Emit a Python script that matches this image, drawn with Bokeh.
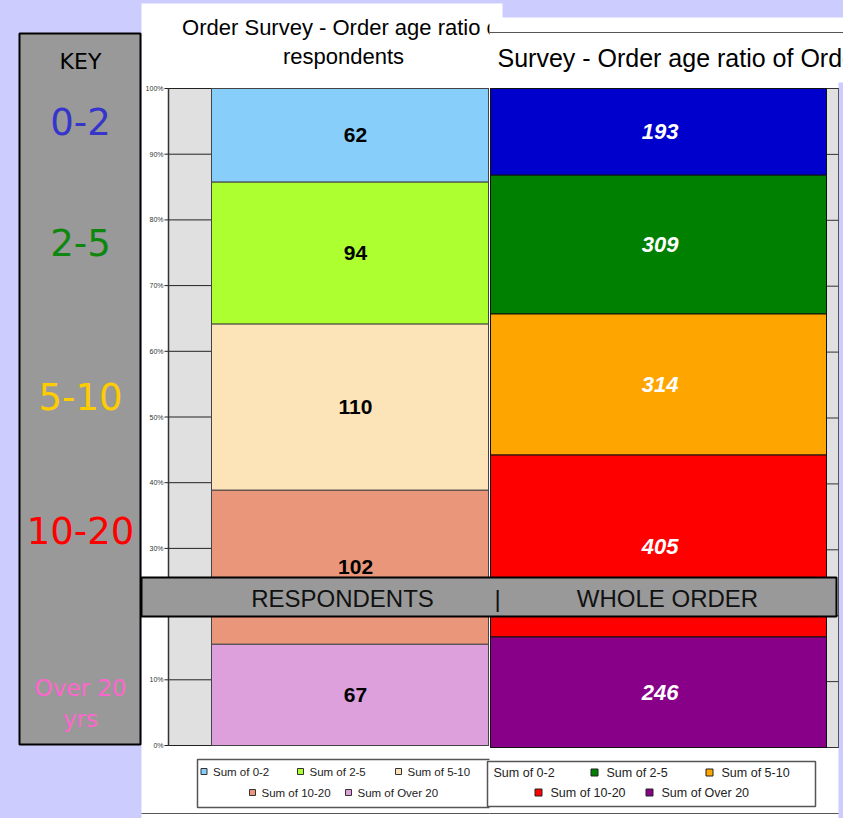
import numpy as np
from bokeh.plotting import figure
from bokeh.models import Range1d, ColumnDataSource
from bokeh.core.properties import value
from bokeh.embed import file_html
from bokeh.resources import INLINE

# ---------------- data ----------------
categories = ["0-2", "2-5", "5-10", "10-20", "Over 20"]
respondents = [62, 94, 110, 102, 67]
whole_order = [193, 309, 314, 405, 246]
resp_colors = ["#87CEFA", "#ADFF2F", "#FDE4B8", "#E9967A", "#DDA0DD"]
order_colors = ["#0000CC", "#008000", "#FFA500", "#FF0000", "#880088"]
key_colors = ["#3535CC", "#0F870F", "#FFCC00", "#FF0000", "#FF66CC"]
key_labels = ["0-2", "2-5", "5-10", "10-20", "Over 20"]
pct_ticks = list(range(0, 101, 10))
pct_tick_labels = [f"{t}%" for t in pct_ticks]
legend_labels = ["Sum of " + c for c in categories]
title_left = ["Order Survey - Order age ratio of", "respondents"]
title_right = "Survey - Order age ratio of Orders"
banner_labels = ["RESPONDENTS", "|", "WHOLE ORDER"]

# ---------------- canvas (screen pixel coordinates) ----------------
W, H = 843, 818
X0, Y0 = 0, 0
LAV = "#CCCCFF"

def xr(v0, p0, v1, p1):
    k = (p1 - p0) / (v1 - v0)
    s = v0 - (p0 - X0) / k
    return Range1d(s, s + W / k)

def yr(v0, p0, v1, p1):
    k = (p0 - p1) / (v1 - v0)
    s = v0 - (Y0 + H - p0) / k
    return Range1d(s, s + H / k)

p = figure(width=W, height=H, x_range=Range1d(X0, X0 + W), y_range=Range1d(Y0 + H, Y0),
           output_backend="svg", toolbar_location=None, min_border=0,
           x_axis_location=None, y_axis_location=None,
           background_fill_color=LAV, border_fill_color=LAV, outline_line_color=None)
p.grid.visible = False

# chart layouts
L_PLOT = (168, 488, 88, 745)    # left plot area x0,x1,ytop,ybottom
L_BAR = (211, 488)
R_PLOT = (490, 838, 88, 747)
R_BAR = (490, 826)

p.extra_x_ranges = {"lx": xr(0, L_BAR[0], 1, L_BAR[1]), "rx": xr(0, R_BAR[0], 1, R_BAR[1])}
p.extra_y_ranges = {"ly": yr(0, L_PLOT[3], 100, L_PLOT[2]), "ry": yr(0, R_PLOT[3], 100, R_PLOT[2])}

def stack(vals):
    v = np.array(vals, dtype=float)
    pct = v / v.sum() * 100.0
    # bottom of the stack is the last category
    top = np.cumsum(pct[::-1])[::-1]
    bottom = top - pct
    return bottom, top

def txt(x, y, s, size, color="black", font="Liberation Sans", align="center",
        baseline="middle", style="normal", **kw):
    p.text(x=[x], y=[y], text=[s], text_font=value(font), text_font_size=size,
           text_color=color, text_align=align, text_baseline=baseline,
           text_font_style=style, **kw)

# ---------------- left panel ----------------
p.quad(left=141, right=502, top=3, bottom=830, fill_color="white", line_color=None)
txt(343, 27, title_left[0], "22px")
txt(343, 56, title_left[1], "22px")

p.quad(left=L_PLOT[0], right=L_PLOT[1], top=L_PLOT[2], bottom=L_PLOT[3],
       fill_color="#E0E0E0", line_color="#555555", line_width=1)
p.segment(x0=[L_PLOT[0]] * len(pct_ticks), x1=[L_PLOT[1]] * len(pct_ticks),
          y0=pct_ticks, y1=pct_ticks, y_range_name="ly", line_color="#222222", line_width=1)
p.segment(x0=[164] * len(pct_ticks), x1=[L_PLOT[0]] * len(pct_ticks),
          y0=pct_ticks, y1=pct_ticks, y_range_name="ly", line_color="#222222", line_width=1)
p.text(x=[163] * len(pct_ticks), y=pct_ticks, text=pct_tick_labels, y_range_name="ly",
       text_font=value("Liberation Sans"), text_font_size="7px", text_color="#333333",
       text_align="right", text_baseline="middle")
p.segment(x0=[L_PLOT[0]], x1=[L_PLOT[0]], y0=[L_PLOT[2]], y1=[L_PLOT[3]],
          line_color="#333333", line_width=1.5)

lb, lt = stack(respondents)
lsrc = ColumnDataSource(dict(cat=categories, val=[str(v) for v in respondents],
                             bottom=lb, top=lt, mid=(lb + lt) / 2, color=resp_colors))
p.vbar(x=0.5, width=1, bottom="bottom", top="top", fill_color="color", line_color="#444444",
       line_width=1, source=lsrc, x_range_name="lx", y_range_name="ly")
p.text(x=0.52, y="mid", text="val", source=lsrc, x_range_name="lx", y_range_name="ly",
       text_font=value("Liberation Sans"), text_font_size="21px", text_font_style="bold",
       text_color="black", text_align="center", text_baseline="middle")

# left legend
p.quad(left=197, right=560, top=759, bottom=807, fill_color="white",
       line_color="#555555", line_width=1.5)
l_leg_x = [203.5, 300, 398, 252, 348]
l_leg_y = [771, 771, 771, 792, 792]
p.rect(x=l_leg_x, y=l_leg_y, width=6, height=6, fill_color=resp_colors, line_color="#333333")
p.text(x=[x + 9 for x in l_leg_x], y=l_leg_y, text=legend_labels,
       text_font=value("Liberation Sans"), text_font_size="11.5px", text_color="#222222",
       text_align="left", text_baseline="middle")
p.segment(x0=[141], x1=[502], y0=[813], y1=[813], line_color="#555555", line_width=1.2)

# ---------------- right panel ----------------
p.quad(left=489, right=843, top=17, bottom=830, fill_color="white", line_color=None)
p.segment(x0=[489], x1=[843], y0=[32], y1=[32], line_color="#555555", line_width=1.2)
txt(497, 57, title_right, "25px", align="left")
# lavender strip on the right edge below the title area
p.quad(left=838, right=850, top=82, bottom=830, fill_color=LAV, line_color=None)

p.quad(left=R_PLOT[0], right=R_PLOT[1], top=R_PLOT[2], bottom=R_PLOT[3],
       fill_color="#E0E0E0", line_color="#555555", line_width=1)
p.segment(x0=[R_PLOT[0]] * len(pct_ticks), x1=[R_PLOT[1]] * len(pct_ticks),
          y0=pct_ticks, y1=pct_ticks, y_range_name="ry", line_color="#333333", line_width=1)

rb, rt = stack(whole_order)
rsrc = ColumnDataSource(dict(cat=categories, val=[str(v) for v in whole_order],
                             bottom=rb, top=rt, mid=(rb + rt) / 2, color=order_colors))
p.vbar(x=0.5, width=1, bottom="bottom", top="top", fill_color="color", line_color="#111111",
       line_width=1, source=rsrc, x_range_name="rx", y_range_name="ry")
p.text(x=0.505, y="mid", text="val", source=rsrc, x_range_name="rx", y_range_name="ry",
       text_font=value("Liberation Sans"), text_font_size="22px", text_font_style="bold italic",
       text_color="white", text_align="center", text_baseline="middle")

# right legend
p.quad(left=487, right=815, top=761, bottom=806, fill_color="white",
       line_color="#555555", line_width=1.5)
r_leg_x = [482, 594, 709, 538, 649]
r_leg_y = [772, 772, 772, 792, 792]
p.rect(x=r_leg_x[1:], y=r_leg_y[1:], width=7, height=7, fill_color=order_colors[1:],
       line_color="#222222")
p.text(x=[493] + [x + 12 for x in r_leg_x[1:]], y=r_leg_y, text=legend_labels,
       text_font=value("Liberation Sans"), text_font_size="12.5px", text_color="#222222",
       text_align="left", text_baseline="middle")
p.segment(x0=[489], x1=[838], y0=[813], y1=[813], line_color="#555555", line_width=1.2)

# ---------------- key box ----------------
p.quad(left=19, right=140, top=33, bottom=744, fill_color="#999999",
       line_color="black", line_width=2)
txt(80, 61, "KEY", "22px", font="DejaVu Sans")
key_y = [121, 242, 396, 530]
for lab, col, y in zip(key_labels[:4], key_colors[:4], key_y):
    txt(80, y, lab, "37px", color=col, font="DejaVu Sans")
txt(80, 687, key_labels[4], "23px", color=key_colors[4], font="DejaVu Sans")
txt(80, 718, "yrs", "23px", color=key_colors[4], font="DejaVu Sans")

# ---------------- banner ----------------
p.quad(left=141, right=836, top=577, bottom=616, fill_color="#999999",
       line_color="black", line_width=2)
for lab, x in zip(banner_labels, [342, 497, 667]):
    txt(x, 598, lab, "24px", color="#111111")

html = file_html(p, INLINE)
html = html.replace("<body>", '<body style="background-color:#CCCCFF;">')
open("out.html", "w").write(html)
